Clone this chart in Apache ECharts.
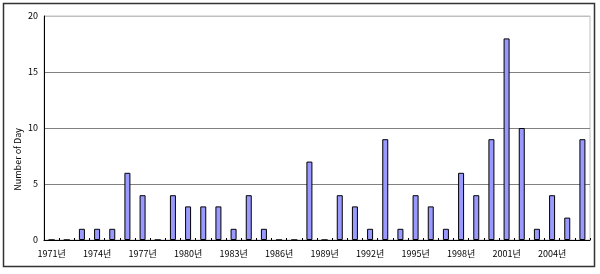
<!DOCTYPE html>
<html>
<head>
<meta charset="utf-8">
<script src="https://cdn.jsdelivr.net/npm/echarts@6/dist/echarts.min.js"></script>
<style>
html,body{margin:0;padding:0;background:#fff;}
#c{width:600px;height:274px;}
</style>
</head>
<body>
<div id="c"></div>
<script>
const years = ['1971','1972','1973','1974','1975','1976','1977','1978','1979','1980','1981','1982','1983','1984','1985','1986','1987','1988','1989','1990','1991','1992','1993','1994','1995','1996','1997','1998','1999','2000','2001','2002','2003','2004','2005','2006'];
const days = [0,0,1,1,1,6,4,0,4,3,3,3,1,4,1,0,0,7,0,4,3,1,9,1,4,3,1,6,4,9,18,10,1,4,2,9];
const yTicks = [0,5,10,15,20];
const yTitle = 'Number of Day';
const yearSuffix = '년';

const chart = echarts.init(document.getElementById('c'), null, {renderer:'canvas'});
const font = '"Noto Sans CJK KR", "DejaVu Sans", sans-serif';
chart.setOption({
  animation:false,
  backgroundColor:'#fff',
  graphic:[{
    type:'rect', shape:{x:3.5,y:3.5,width:591,height:263},
    style:{fill:null, stroke:'#333', lineWidth:1.5}, z:-1
  },{
    type:'text', left:13, top:128, rotation:Math.PI/2,
    style:{text:yTitle, fill:'#000', font:'9px ' + font, textAlign:'center', textVerticalAlign:'middle'}
  }],
  grid:{left:44,right:10,top:16,bottom:34,show:true,borderColor:'#c0c0c0',borderWidth:1},
  xAxis:{
    type:'category', data:years, boundaryGap:true,
    axisLine:{lineStyle:{color:'#000',width:1}},
    axisTick:{show:true,inside:true,length:2,interval:0,lineStyle:{color:'#000'}},
    axisLabel:{interval:2, color:'#000', fontSize:9, fontFamily:font, margin:9,
      formatter:v=>v+yearSuffix}
  },
  yAxis:{
    type:'value', min:yTicks[0], max:yTicks[yTicks.length-1], interval:5,
    axisLine:{show:true,lineStyle:{color:'#000',width:1}},
    axisTick:{show:false},
    axisLabel:{color:'#000', fontSize:9, fontFamily:font, margin:6},
    splitLine:{show:true,lineStyle:{color:['#808080','#808080','#808080','#808080','#c0c0c0'],width:1}}
  },
  series:[{
    type:'bar', data:days, barWidth:6,
    itemStyle:{color:'#9999ff', borderColor:'#000', borderWidth:1}
  }]
});
</script>
</body>
</html>
